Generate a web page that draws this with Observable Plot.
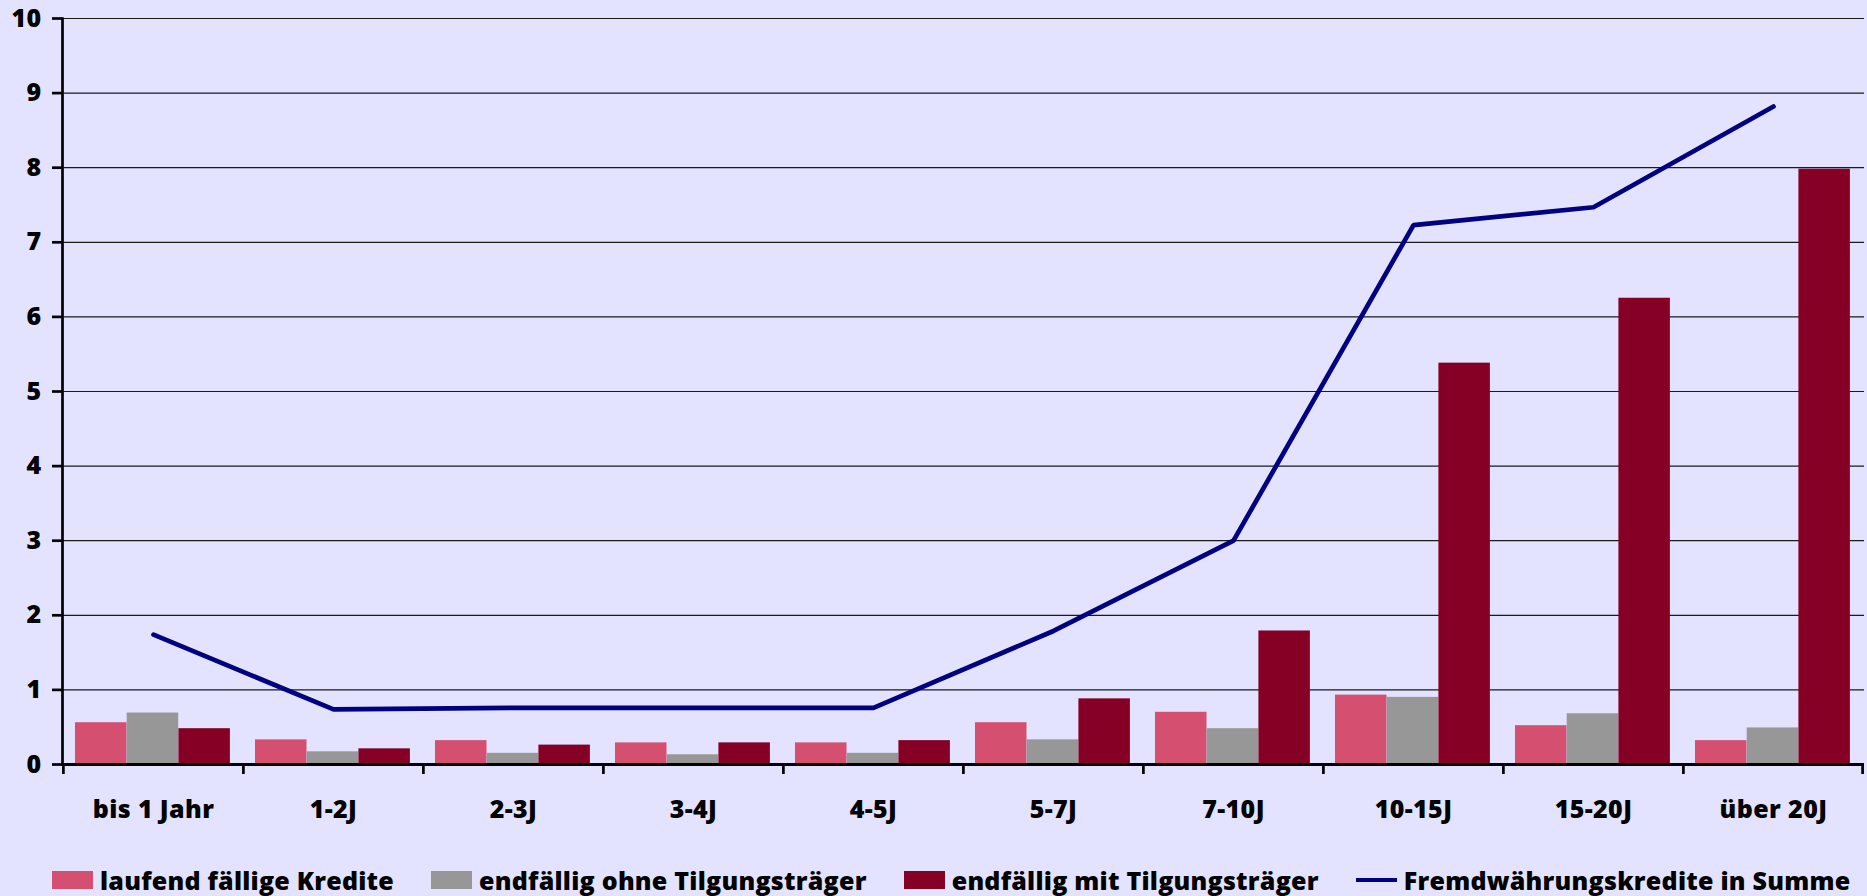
<!DOCTYPE html>
<html>
<head>
<meta charset="utf-8">
<script src="https://cdn.jsdelivr.net/npm/d3@7"></script>
<script src="https://cdn.jsdelivr.net/npm/@observablehq/plot@0.6"></script>
<style>
  html, body { margin: 0; padding: 0; background: #E3E3FF; }
  body { width: 1867px; height: 896px; overflow: hidden; font-family: "Open Sans", sans-serif; }
  #chart svg { display: block; }
  .legend { display: flex; align-items: center; gap: 37px; padding-left: 52px; margin-top: 28px; height: 24px; line-height: 24px;
            font-family: "Open Sans", sans-serif; font-weight: 800; font-size: 25px; letter-spacing: 0.25px; color: #000; }
  .legend .item { display: flex; align-items: center; gap: 7px; white-space: nowrap; }
  .legend .sw { width: 41px; height: 18px; display: inline-block; }
  .legend .ln { width: 41px; height: 4px; display: inline-block; background: #000080; }
</style>
</head>
<body>
<div id="chart"></div>
<div class="legend" id="legend"></div>
<script>
// ---- data ----
const categories = ["bis 1 Jahr", "1-2J", "2-3J", "3-4J", "4-5J", "5-7J", "7-10J", "10-15J", "15-20J", "über 20J"];
const laufend = [0.56, 0.33, 0.32, 0.29, 0.29, 0.56, 0.70, 0.93, 0.52, 0.32];
const ohneTilgung = [0.69, 0.17, 0.15, 0.13, 0.15, 0.33, 0.48, 0.90, 0.68, 0.49];
const mitTilgung = [0.48, 0.21, 0.26, 0.29, 0.32, 0.88, 1.79, 5.38, 6.25, 7.98];
const summe = [1.74, 0.74, 0.76, 0.76, 0.76, 1.79, 3.00, 7.23, 7.47, 8.82];
const seriesNames = ["laufend fällige Kredite", "endfällig ohne Tilgungsträger", "endfällig mit Tilgungsträger"];
const lineName = "Fremdwährungskredite in Summe";
const yTicks = [0, 1, 2, 3, 4, 5, 6, 7, 8, 9, 10];

// ---- styles ----
const colors = ["#D44F70", "#979797", "#860025"];
const lineColor = "#000080";
const W = 1867, H = 840, mL = 62, mR = 3, mT = 18, mB = 76;
const step = (W - mL - mR) / categories.length;
const groupPad = 12, barW = 51.7;

const seriesValues = [laufend, ohneTilgung, mitTilgung];
const table = categories.map((c, i) => ({cat: c, s0: laufend[i], s1: ohneTilgung[i], s2: mitTilgung[i], sum: summe[i]}));

const barMarks = seriesValues.map((vals, s) =>
  Plot.barY(table, {
    x: "cat", y: "s" + s, fill: colors[s],
    insetLeft: groupPad + s * barW,
    insetRight: step - groupPad - (s + 1) * barW
  })
);

const chart = Plot.plot({
  width: W, height: H,
  marginLeft: mL, marginRight: mR, marginTop: mT, marginBottom: mB,
  style: {background: "#E3E3FF", fontFamily: "Open Sans, sans-serif", fontSize: "25px", fontWeight: 800, color: "#000", letterSpacing: "0.4px"},
  x: {domain: categories, padding: 0},
  y: {domain: [0, 10]},
  marks: [
    Plot.gridY(yTicks, {stroke: "#1a1a1a", strokeOpacity: 1, strokeWidth: 1.2}),
    ...barMarks,
    Plot.line(table, {x: "cat", y: "sum", stroke: lineColor, strokeWidth: 4.7, strokeLinejoin: "miter", strokeLinecap: "round"}),
    Plot.ruleY([0], {stroke: "#000", strokeWidth: 3}),
    Plot.frame({anchor: "left", stroke: "#000", strokeWidth: 2.7}),
    Plot.axisY(yTicks, {tickSize: 10, tickPadding: 11, strokeWidth: 2.7, label: null, tickFormat: d3.format("d"), fontSize: 25, fontWeight: 800}),
    Plot.axisX({tickSize: 0, tickPadding: 36, label: null, fontSize: 25, fontWeight: 800}),
    Plot.ruleX(categories, {x: d => d, y1: 0, y2: 0, insetBottom: -10, dx: -step / 2, stroke: "#000", strokeWidth: 2.7}),
    Plot.ruleX([categories[categories.length - 1]], {x: d => d, y1: 0, y2: 0, insetBottom: -10, dx: step / 2 - 1, stroke: "#000", strokeWidth: 2.7})
  ]
});
document.getElementById("chart").append(chart);

// ---- legend ----
const legend = document.getElementById("legend");
seriesNames.forEach((name, s) => {
  const it = document.createElement("div");
  it.className = "item";
  it.innerHTML = `<span class="sw" style="background:${colors[s]}"></span><span>${name}</span>`;
  legend.append(it);
});
const li = document.createElement("div");
li.className = "item";
li.innerHTML = `<span class="ln"></span><span>${lineName}</span>`;
legend.append(li);
</script>
</body>
</html>
